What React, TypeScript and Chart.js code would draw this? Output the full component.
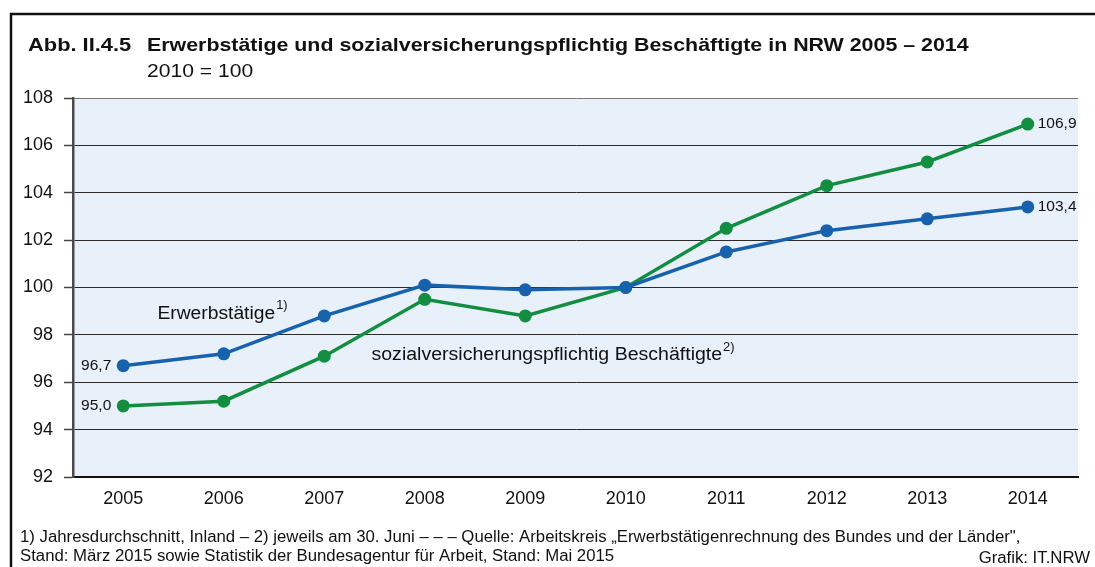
import React, { useEffect, useRef } from "react";
import { Chart, registerables } from "chart.js";

Chart.register(...registerables);

const years = ["2005", "2006", "2007", "2008", "2009", "2010", "2011", "2012", "2013", "2014"];
const erwerbstaetige = [96.7, 97.2, 98.8, 100.1, 99.9, 100.0, 101.5, 102.4, 102.9, 103.4];
const svBeschaeftigte = [95.0, 95.2, 97.1, 99.5, 98.8, 100.0, 102.5, 104.3, 105.3, 106.9];
const yTicks = [92, 94, 96, 98, 100, 102, 104, 106, 108];

const titleLabel = "Abb. II.4.5";
const titleText = "Erwerbstätige und sozialversicherungspflichtig Beschäftigte in NRW 2005 – 2014";
const subtitleText = "2010 = 100";
const footer1 = "1) Jahresdurchschnitt, Inland – 2) jeweils am 30. Juni – – – Quelle: Arbeitskreis „Erwerbstätigenrechnung des Bundes und der Länder\",";
const footer2 = "Stand: März 2015 sowie Statistik der Bundesagentur für Arbeit, Stand: Mai 2015";
const credit = "Grafik: IT.NRW";

const BLUE = "#1862ad";
const GREEN = "#138e41";
const FONT = "'Liberation Sans', Arial, sans-serif";

const fmt = (v: number) => v.toFixed(1).replace(".", ",");

function stretchText(ctx: CanvasRenderingContext2D, text: string, x: number, y: number, sx: number, align: CanvasTextAlign) {
  ctx.save();
  ctx.translate(x, y);
  ctx.scale(sx, 1);
  ctx.textAlign = align;
  ctx.fillText(text, 0, 0);
  ctx.restore();
}

export default function App() {
  const ref = useRef<HTMLCanvasElement | null>(null);

  useEffect(() => {
    document.body.style.margin = "0";
    const canvas = ref.current;
    if (!canvas) return;

    const decorations = {
      id: "decorations",
      beforeDraw(chart: any) {
        const { ctx, chartArea } = chart;
        ctx.save();
        ctx.fillStyle = "#ffffff";
        ctx.fillRect(0, 0, chart.width, chart.height);
        ctx.fillStyle = "#e8f0fa";
        ctx.fillRect(chartArea.left, chartArea.top, chartArea.right - chartArea.left, chartArea.bottom - chartArea.top);
        // frame
        ctx.strokeStyle = "#111";
        ctx.lineWidth = 2.5;
        ctx.beginPath();
        ctx.moveTo(11, chart.height + 5);
        ctx.lineTo(11, 14);
        ctx.lineTo(chart.width + 5, 14);
        ctx.stroke();
        // title
        ctx.fillStyle = "#111";
        ctx.textBaseline = "alphabetic";
        ctx.font = `bold 19px ${FONT}`;
        stretchText(ctx, titleLabel, 28, 51, 1.15, "left");
        stretchText(ctx, titleText, 147, 51, 1.125, "left");
        ctx.font = `19px ${FONT}`;
        stretchText(ctx, subtitleText, 147, 77, 1.11, "left");
        // footer
        ctx.font = `16px ${FONT}`;
        stretchText(ctx, footer1, 20, 542, 1.047, "left");
        stretchText(ctx, footer2, 20, 561, 1.047, "left");
        stretchText(ctx, credit, 1090, 563, 1.047, "right");
        ctx.restore();
      },
      afterDatasetsDraw(chart: any) {
        const { ctx, scales } = chart;
        const x = scales.x;
        const y = scales.y;
        ctx.save();
        ctx.fillStyle = "#111";
        ctx.textBaseline = "middle";
        // end labels
        ctx.font = `15.5px ${FONT}`;
        const m0 = chart.getDatasetMeta(0).data;
        const m1 = chart.getDatasetMeta(1).data;
        const last = years.length - 1;
        ctx.textAlign = "right";
        ctx.fillText(fmt(erwerbstaetige[0]), m0[0].x - 12, m0[0].y);
        ctx.fillText(fmt(svBeschaeftigte[0]), m1[0].x - 12, m1[0].y);
        ctx.textAlign = "left";
        ctx.fillText(fmt(erwerbstaetige[last]), m0[last].x + 10, m0[last].y);
        ctx.fillText(fmt(svBeschaeftigte[last]), m1[last].x + 10, m1[last].y);
        // series annotations
        const drawSup = (text: string, sup: string, px: number, py: number, sx: number) => {
          ctx.font = `18px ${FONT}`;
          stretchText(ctx, text, px, py, sx, "left");
          const w = ctx.measureText(text).width * sx;
          ctx.font = `12px ${FONT}`;
          stretchText(ctx, sup, px + w + 1, py - 8, sx, "left");
        };
        drawSup("Erwerbstätige", "1)", x.getPixelForValue(0.34), y.getPixelForValue(98.9), 1.07);
        drawSup("sozialversicherungspflichtig Beschäftigte", "2)", x.getPixelForValue(2.47), y.getPixelForValue(97.13), 1.085);
        ctx.restore();
      },
    };

    const chart = new Chart(canvas, {
      type: "line",
      data: {
        labels: years,
        datasets: [
          {
            label: "Erwerbstätige",
            data: erwerbstaetige,
            borderColor: BLUE,
            backgroundColor: BLUE,
            borderWidth: 3.5,
            pointRadius: 6.5,
            pointBorderWidth: 0,
            pointBackgroundColor: BLUE,
            tension: 0,
          },
          {
            label: "sozialversicherungspflichtig Beschäftigte",
            data: svBeschaeftigte,
            borderColor: GREEN,
            backgroundColor: GREEN,
            borderWidth: 3.5,
            pointRadius: 6.5,
            pointBorderWidth: 0,
            pointBackgroundColor: GREEN,
            tension: 0,
          },
        ],
      },
      options: {
        responsive: false,
        animation: false,
        layout: { padding: { top: 98, right: 17, left: 0, bottom: 0 } },
        plugins: {
          legend: { display: false },
          tooltip: { enabled: false },
          title: { display: false },
        },
        scales: {
          x: {
            type: "category",
            offset: true,
            grid: { display: false, drawTicks: false },
            border: { display: true, color: "#111", width: 2 },
            ticks: { color: "#111", font: { family: FONT, size: 18 }, padding: 11 },
            afterFit(scale: any) {
              scale.height = 90;
            },
          },
          y: {
            min: 92,
            max: 108,
            afterBuildTicks(scale: any) {
              scale.ticks = yTicks.map((v) => ({ value: v }));
            },
            grid: {
              color: (c: any) => (c.tick && c.tick.value === 108 ? "#777" : "#2a2a2a"),
              lineWidth: 1,
              drawTicks: true,
              tickLength: 9,
              tickColor: "#444",
              tickWidth: 1.5,
            },
            border: { display: true, color: "#4a4a4a", width: 2.5 },
            ticks: {
              color: "#111",
              font: { family: FONT, size: 18 },
              padding: 11,
              callback: (v: any) => String(v),
            },
            afterFit(scale: any) {
              scale.width = 73;
            },
          },
        },
      },
      plugins: [decorations],
    } as any);

    return () => chart.destroy();
  }, []);

  return (
    <div style={{ width: 1095, height: 567, position: "relative" }}>
      <canvas ref={ref} width={1095} height={567} style={{ display: "block" }} />
    </div>
  );
}
